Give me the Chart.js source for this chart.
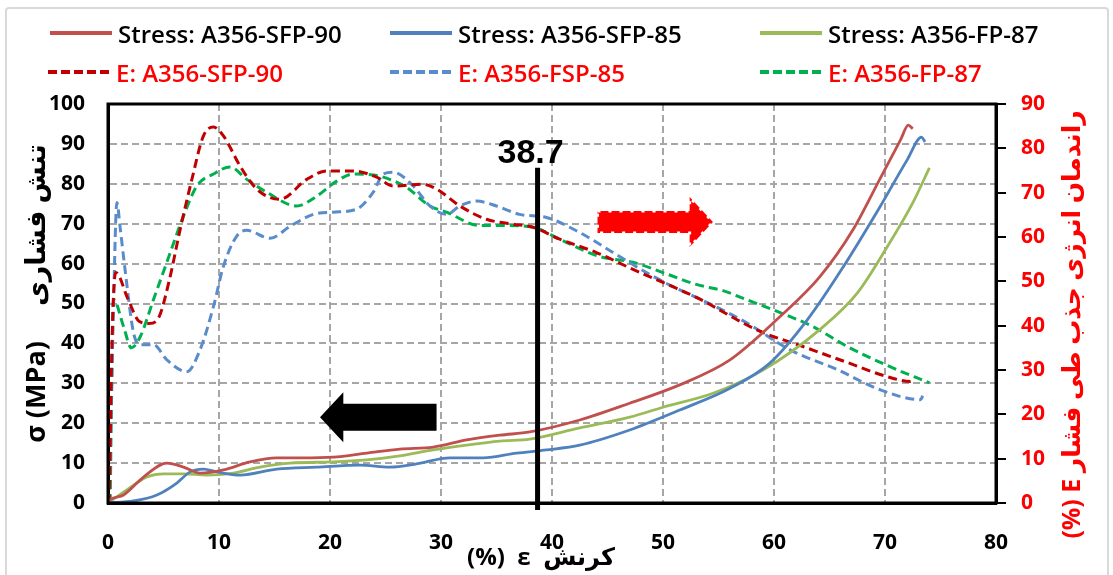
<!DOCTYPE html>
<html>
<head>
<meta charset="utf-8">
<script src="https://cdn.jsdelivr.net/npm/chart.js@4.4.1/dist/chart.umd.min.js"></script>
<style>
  html, body { margin: 0; padding: 0; background: #fff; }
  body { width: 1113px; height: 575px; position: relative; overflow: hidden; font-family: "Open Sans", sans-serif; }
  #wrap { position: absolute; left: 0; top: 0; width: 1113px; height: 575px; }
  #frame { position: absolute; left: 5px; top: 7px; width: 1100px; height: 620px; border: 2px solid #d9d9d9; border-radius: 4px; pointer-events: none; }
  .leg { position: absolute; height: 30px; display: flex; align-items: center; font-size: 24px; font-weight: 600; white-space: nowrap; }
  .leg svg { margin-right: 6px; }
</style>
</head>
<body>
<div id="frame"></div>
<div id="wrap"><canvas id="chart"></canvas></div>
<div id="legend"></div>
<script>
// strain (%) and compressive stress (MPa), left axis
const sfp90StrainS = [0, 0.2, 1.4, 3.2, 5.3, 6.8, 8.3, 10.4, 12.8, 15.2, 17.3, 20.3, 23.3, 26.3, 29.3, 32.3, 35.3, 38, 42.5, 47, 51.5, 56, 60.5, 64.1, 67.1, 69.5, 71.4, 72.1, 72.5];
const sfp90Stress  = [0, 0.8, 2, 6.5, 10, 9, 7.5, 8.3, 10.3, 11.3, 11.3, 11.5, 12.5, 13.5, 14, 15.8, 17, 17.8, 20.8, 25, 29.6, 35.8, 46.6, 56.6, 68.4, 81, 91, 94.7, 93.8];

const sfp85StrainS = [0, 2.3, 4.4, 6.2, 7.4, 8.6, 9.8, 11.9, 15.2, 18.8, 22.7, 25.4, 27.8, 30.8, 33.8, 36.8, 39.5, 42.5, 47, 51.5, 56, 59.6, 63, 66.2, 69.5, 72, 73.3, 73.6];
const sfp85Stress  = [0, 0.5, 2, 5, 7.8, 8.5, 7.8, 7, 8.5, 9, 9.5, 9, 9.8, 11.3, 11.3, 12.5, 13.3, 14.5, 18.3, 23.3, 28.7, 35, 45.9, 59, 74, 86, 91.7, 90.5];

const fp87StrainS = [0, 1.7, 3.5, 5, 6.8, 8.9, 11.3, 13.7, 16.4, 20.3, 23.3, 26.3, 29.3, 32.3, 35.3, 38, 42.5, 47, 50, 54.5, 59, 64.1, 67.5, 70.2, 72.5, 74];
const fp87Stress  = [0, 3.3, 6.5, 7.3, 7.3, 7, 7.5, 9, 10, 10.3, 10.8, 11.8, 13.3, 14.5, 15.5, 16, 18.8, 21.5, 24, 27.5, 33.3, 43.4, 52.6, 64.2, 75.2, 84];

// strain (%) and energy absorption efficiency E (%), right axis
const sfp90StrainE = [0.1, 0.4, 0.7, 1.8, 2.8, 3.7, 4.6, 5.5, 6.5, 7.5, 8.6, 9.5, 10.4, 11.9, 13.4, 15.5, 17.9, 19.7, 22.1, 24.2, 25.7, 28.4, 29.6, 31.7, 34.1, 36.5, 38.3, 40.7, 44, 47.3, 50.4, 53, 58.5, 62.6, 66.6, 70.2, 72.3, 72.6];
const sfp90Eff     = [0, 40, 52, 46, 41, 40.5, 42, 50, 61.7, 72.4, 82.8, 84.8, 82.8, 76, 70.8, 68.5, 73, 74.9, 74.9, 73.5, 71.5, 71.9, 70.8, 67, 64, 62.9, 62.2, 59.5, 56.5, 52.7, 49.3, 46.4, 39, 35.3, 31.7, 28.5, 27.4, 28.3];

const fsp85StrainE = [0.1, 0.5, 0.8, 1.1, 1.5, 2.3, 2.9, 4.1, 5.3, 7.1, 8.3, 9.5, 10.4, 11.6, 12.5, 14.6, 16.4, 18.5, 20.3, 22.4, 23.9, 24.8, 25.7, 27.5, 29, 30.5, 31.7, 33.2, 35, 37.1, 39.5, 42.5, 45.5, 48.5, 50.9, 53, 57.5, 61.4, 65.7, 69.5, 73.2, 73.4];
const fsp85Eff     = [0, 45, 67.8, 62, 53.4, 38.4, 35.7, 35.7, 32.3, 29.6, 34.6, 44.3, 53.4, 60.2, 61.5, 59.7, 62.4, 65.1, 65.6, 66.3, 70.1, 74.2, 74.6, 71.5, 67, 65.1, 67, 68.1, 67, 65.1, 64.4, 61, 56.5, 52, 48.8, 46.4, 40.7, 34.6, 30.1, 25.6, 23.3, 24.2];

const fp87StrainE = [0.2, 0.3, 0.5, 1.4, 2.1, 2.9, 4.1, 5.3, 6.8, 8, 9.5, 11, 12.5, 14.3, 17, 18.8, 20.6, 22.1, 23.9, 26, 26.9, 29, 30.5, 33.5, 35.9, 38.3, 40.7, 44.3, 47.3, 50.4, 53, 55.4, 57.5, 60.5, 63.5, 66.6, 70.4, 74];
const fp87Eff     = [0, 20, 45.9, 39.8, 35, 37.5, 45.9, 54.3, 64.7, 71.5, 74.2, 75.8, 73, 70.1, 67, 69.2, 72.6, 74.2, 74, 72.4, 71.2, 67, 65.6, 62.6, 62.6, 62.2, 59.5, 55.6, 54.3, 51.6, 49.3, 47.9, 45.9, 43, 39.8, 35.3, 30.8, 27.1];

const seriesLabels = ["Stress: A356-SFP-90", "Stress: A356-SFP-85", "Stress: A356-FP-87",
                      "E: A356-SFP-90", "E: A356-FSP-85", "E: A356-FP-87"];
const markerStrain = 38.7;

const zip = (xs, ys) => xs.map((v, i) => ({ x: v, y: ys[i] }));

const mkSet = (label, xs, ys, color, axis, dashed) => ({
  label: label,
  data: zip(xs, ys),
  borderColor: color,
  backgroundColor: color,
  borderWidth: dashed ? 3 : 2.8,
  borderDash: dashed ? [9, 5] : [],
  pointRadius: 0,
  cubicInterpolationMode: "monotone",
  yAxisID: axis,
});

const datasets = [
  mkSet(seriesLabels[0], sfp90StrainS, sfp90Stress, "#c0504d", "y", false),
  mkSet(seriesLabels[1], sfp85StrainS, sfp85Stress, "#4f81bd", "y", false),
  mkSet(seriesLabels[2], fp87StrainS, fp87Stress, "#9bbb59", "y", false),
  mkSet(seriesLabels[3], sfp90StrainE, sfp90Eff, "#c00000", "y2", true),
  mkSet(seriesLabels[4], fsp85StrainE, fsp85Eff, "#5a8ccc", "y2", true),
  mkSet(seriesLabels[5], fp87StrainE, fp87Eff, "#00b050", "y2", true),
];

const tickFont = { family: "'Open Sans', sans-serif", size: 21, weight: "bold" };
const gridStyle = { color: "#a6a6a6", lineWidth: 2, drawTicks: false };

function arrowPath(ctx, tail, base, tip, cy, shaftHalf, headHalf) {
  ctx.beginPath();
  ctx.moveTo(tail, cy - shaftHalf);
  ctx.lineTo(base, cy - shaftHalf);
  ctx.lineTo(base, cy - headHalf);
  ctx.lineTo(tip, cy);
  ctx.lineTo(base, cy + headHalf);
  ctx.lineTo(base, cy + shaftHalf);
  ctx.lineTo(tail, cy + shaftHalf);
  ctx.closePath();
}

const extras = {
  id: "extras",
  afterDraw(chart) {
    const { ctx, chartArea: a, scales } = chart;
    const x = scales.x, y = scales.y;
    ctx.save();
    // plot frame
    ctx.strokeStyle = "#000";
    ctx.lineWidth = 3;
    ctx.strokeRect(a.left, a.top, a.right - a.left, a.bottom - a.top);

    // marker line at 38.7 %
    const mx = x.getPixelForValue(markerStrain);
    const topY = y.getPixelForValue(84);
    ctx.lineWidth = 5;
    ctx.beginPath();
    ctx.moveTo(mx, topY);
    ctx.lineTo(mx, a.bottom + 7);
    ctx.stroke();
    ctx.fillStyle = "#000";
    ctx.font = "bold 34px 'Liberation Sans Narrow', 'Arial Narrow', sans-serif";
    ctx.textAlign = "center";
    ctx.textBaseline = "alphabetic";
    ctx.fillText(String(markerStrain), mx - 7, topY - 5);

    // arrows
    arrowPath(ctx, x.getPixelForValue(29.6), x.getPixelForValue(21.2), x.getPixelForValue(19.1),
      y.getPixelForValue(21.5), 13.5, 25);
    ctx.fillStyle = "#000";
    ctx.fill();
    arrowPath(ctx, x.getPixelForValue(44.1), x.getPixelForValue(52.4), x.getPixelForValue(54.5),
      y.getPixelForValue(70.4), 11, 25);
    ctx.fillStyle = "#ff0000";
    ctx.fill();
    ctx.strokeStyle = "#fff";
    ctx.lineWidth = 3;
    ctx.setLineDash([3, 8]);
    ctx.stroke();
    ctx.setLineDash([]);

    // axis titles
    ctx.textAlign = "center";
    ctx.textBaseline = "middle";
    ctx.save();
    ctx.translate(37, (a.top + a.bottom) / 2 - 10);
    ctx.rotate(-Math.PI / 2);
    ctx.font = "bold 27px 'Open Sans', 'DejaVu Sans', sans-serif";
    ctx.fillStyle = "#000";
    ctx.fillText("σ (MPa)     تنش فشاری", 0, 0);
    ctx.restore();

    ctx.save();
    ctx.translate(1073, (a.top + a.bottom) / 2 + 21);
    ctx.rotate(-Math.PI / 2);
    ctx.font = "bold 25px 'Open Sans', 'DejaVu Sans', sans-serif";
    ctx.fillStyle = "#ff0000";
    ctx.fillText("(%) E راندمان انرژی جذب طی فشار", 0, 0);
    ctx.restore();

    ctx.font = "bold 24px 'Open Sans', 'DejaVu Sans', sans-serif";
    ctx.fillStyle = "#000";
    ctx.textBaseline = "alphabetic";
    ctx.fillText("(%)  ε  کرنش", 541, 565);
    ctx.restore();
  },
};

const chart = new Chart(document.getElementById("chart"), {
  type: "line",
  data: { datasets: datasets },
  options: {
    responsive: true,
    maintainAspectRatio: false,
    animation: false,
    layout: { padding: { top: 104, left: 0, right: 0, bottom: 0 } },
    plugins: { legend: { display: false }, tooltip: { enabled: false } },
    scales: {
      x: {
        type: "linear",
        min: 0, max: 80,
        ticks: { stepSize: 10, color: "#000", font: tickFont, padding: 27, maxRotation: 0 },
        grid: gridStyle,
        border: { color: "#000", width: 3, dash: [7, 4] },
        afterFit(s) { s.height = 72; },
      },
      y: {
        position: "left",
        min: 0, max: 100,
        ticks: { stepSize: 10, color: "#000", font: tickFont, padding: 23 },
        grid: gridStyle,
        border: { color: "#000", width: 3, dash: [7, 4] },
        afterFit(s) { s.width = 108; },
      },
      y2: {
        position: "right",
        min: 0, max: 90,
        ticks: { stepSize: 10, color: "#ff0000", font: tickFont, padding: 15 },
        grid: { drawOnChartArea: false, color: "#000", lineWidth: 2, tickLength: 10 },
        border: { color: "#000", width: 3 },
        afterFit(s) { s.width = 117; },
      },
    },
  },
  plugins: [extras],
});

// legend (two rows of three)
const legendSlots = [[50, 33], [390, 33], [760, 33], [48, 72], [390, 72], [760, 72]];
const legendBox = document.getElementById("legend");
datasets.forEach((d, i) => {
  const [lx, ly] = legendSlots[i];
  const item = document.createElement("div");
  item.className = "leg";
  item.style.left = lx + "px";
  item.style.top = (ly - 15) + "px";
  const dash = d.borderDash.length ? `stroke-dasharray="9 4"` : "";
  item.innerHTML = `<svg width="62" height="6"><line x1="0" y1="3" x2="62" y2="3" stroke="${d.borderColor}" stroke-width="4" ${dash}/></svg>` +
    `<span style="color:${i < 3 ? "#000" : "#ff0000"}">${d.label}</span>`;
  legendBox.appendChild(item);
});
</script>
</body>
</html>
